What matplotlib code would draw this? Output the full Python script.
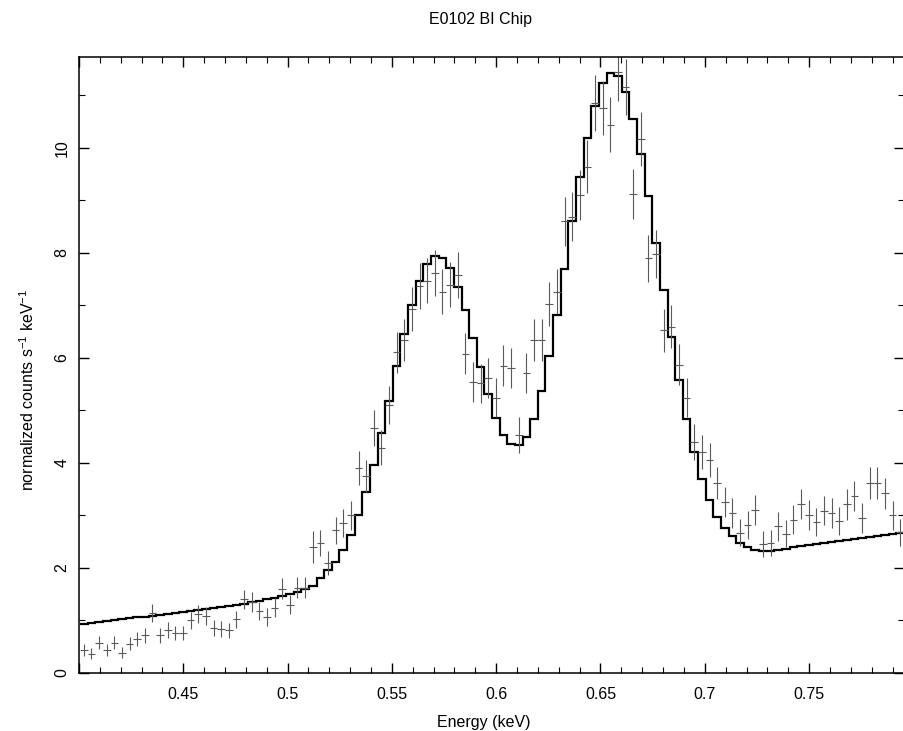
import numpy as np
import matplotlib
matplotlib.use("Agg")
import matplotlib.pyplot as plt
from matplotlib.ticker import MultipleLocator, FuncFormatter

plt.rcParams['font.family'] = ['Liberation Sans', 'DejaVu Sans']
plt.rcParams['mathtext.fontset'] = 'custom'
plt.rcParams['mathtext.rm'] = 'Liberation Sans'
plt.rcParams['mathtext.default'] = 'regular'

# channel grid (keV)
chan_lo = 0.40048
chan_width = 0.003658

# observed spectrum, normalized counts s^-1 keV^-1
counts = [0.44, 0.37, 0.58, 0.44, 0.58, 0.39, 0.56, 0.65, 0.72, 1.14,
          0.72, 0.82, 0.76, 0.76, 1.00, 1.12, 1.08, 0.86, 0.84, 0.81,
          1.02, 1.40, 1.35, 1.18, 1.06, 1.24, 1.60, 1.30, 1.62, 1.62,
          2.40, 2.48, 2.10, 2.72, 2.86, 3.00, 3.90, 3.75, 4.67, 4.29,
          5.10, 6.11, 6.34, 6.93, 7.37, 7.47, 7.62, 7.26, 7.39, 7.58,
          6.08, 5.54, 5.52, 5.62, 5.24, 5.85, 5.80, 4.53, 5.71, 6.34,
          6.34, 7.03, 7.26, 8.60, 8.69, 9.10, 9.64, 10.86, 10.76, 10.44,
          11.45, 11.16, 9.12, 10.17, 7.90, 7.98, 6.53, 6.59, 5.87, 5.24,
          4.40, 4.21, 4.06, 3.62, 3.26, 3.05, 2.67, 2.82, 3.10, 2.46,
          2.47, 2.79, 2.65, 2.92, 3.22, 3.01, 2.87, 3.09, 3.05, 2.90,
          3.21, 3.37, 2.95, 3.62, 3.62, 3.42, 3.00, 2.68]

errors = [0.11, 0.10, 0.12, 0.11, 0.12, 0.10, 0.12, 0.13, 0.14, 0.17,
          0.14, 0.15, 0.14, 0.14, 0.16, 0.17, 0.17, 0.15, 0.15, 0.15,
          0.16, 0.19, 0.19, 0.17, 0.17, 0.18, 0.20, 0.18, 0.20, 0.20,
          0.30, 0.25, 0.23, 0.26, 0.27, 0.28, 0.32, 0.31, 0.34, 0.33,
          0.36, 0.39, 0.40, 0.42, 0.43, 0.43, 0.44, 0.43, 0.43, 0.44,
          0.39, 0.38, 0.37, 0.38, 0.37, 0.39, 0.38, 0.34, 0.38, 0.40,
          0.40, 0.42, 0.43, 0.47, 0.47, 0.48, 0.50, 0.53, 0.52, 0.52,
          0.55, 0.54, 0.48, 0.51, 0.45, 0.45, 0.41, 0.41, 0.39, 0.37,
          0.34, 0.33, 0.32, 0.31, 0.29, 0.28, 0.26, 0.27, 0.28, 0.25,
          0.25, 0.27, 0.26, 0.27, 0.29, 0.28, 0.27, 0.28, 0.28, 0.27,
          0.29, 0.29, 0.28, 0.30, 0.30, 0.30, 0.28, 0.26]

# folded model
model = [0.93, 0.95, 0.97, 0.99, 1.01, 1.02, 1.04, 1.06, 1.07, 1.09,
         1.11, 1.13, 1.14, 1.16, 1.18, 1.20, 1.22, 1.24, 1.26, 1.28,
         1.30, 1.32, 1.35, 1.37, 1.40, 1.43, 1.46, 1.50, 1.54, 1.60,
         1.66, 1.80, 1.96, 2.12, 2.34, 2.63, 3.00, 3.45, 3.96, 4.57,
         5.18, 5.85, 6.46, 7.01, 7.47, 7.79, 7.94, 7.90, 7.71, 7.35,
         6.91, 6.38, 5.83, 5.31, 4.86, 4.53, 4.37, 4.34, 4.50, 4.84,
         5.37, 6.04, 6.82, 7.70, 8.60, 9.45, 10.19, 10.80, 11.24, 11.43,
         11.37, 11.07, 10.55, 9.89, 9.09, 8.19, 7.30, 6.40, 5.58, 4.84,
         4.21, 3.70, 3.30, 2.98, 2.76, 2.60, 2.47, 2.40, 2.34, 2.32,
         2.33, 2.35, 2.37, 2.39, 2.41, 2.43, 2.45, 2.47, 2.49, 2.51,
         2.53, 2.55, 2.57, 2.59, 2.61, 2.63, 2.65, 2.67]

edges = chan_lo + chan_width * np.arange(len(counts) + 1)
centers = 0.5 * (edges[:-1] + edges[1:])

fig = plt.figure(figsize=(9.04, 7.31), dpi=100)
ax = fig.add_axes([79 / 904, 58 / 731, 825 / 904, 616 / 731])

ax.errorbar(centers, counts, yerr=errors, xerr=chan_width / 2, fmt='none',
            ecolor='#5a5a5a', elinewidth=0.8, capsize=0)
ax.stairs(model, edges, color='black', linewidth=1.6, baseline=None)

ax.set_xlim(0.4, 0.7955)
ax.set_ylim(0, 11.73)

def xfmt(v, pos):
    # PGPLOT leaves the label off the corner tick
    if v < 0.41:
        return ''
    return '%g' % round(v, 3)

ax.xaxis.set_major_locator(MultipleLocator(0.05))
ax.xaxis.set_minor_locator(MultipleLocator(0.01))
ax.yaxis.set_major_locator(MultipleLocator(2))
ax.yaxis.set_minor_locator(MultipleLocator(1))
ax.xaxis.set_major_formatter(FuncFormatter(xfmt))
ax.tick_params(which='both', direction='in', top=True, right=True, labelsize=11.5)
ax.tick_params(which='major', length=7.5, width=1)
ax.tick_params(which='minor', length=4.5, width=0.8)
ax.tick_params(axis='x', pad=10)
ax.tick_params(axis='y', pad=7)
for lab in ax.get_yticklabels():
    lab.set_rotation(90)
    lab.set_va('center')
for s in ax.spines.values():
    s.set_linewidth(1.1)

ax.set_xlabel('Energy (keV)', fontsize=11.5)
ax.xaxis.set_label_coords(0.491, -0.068)
ax.set_ylabel(r'normalized counts s$^{-1}$ keV$^{-1}$', fontsize=11.5)
ax.yaxis.set_label_coords(-0.051, 0.46)
fig.text(0.532, 0.974, 'E0102 BI Chip', ha='center', va='center', fontsize=11.5)

fig.savefig('out.png', dpi=100)
